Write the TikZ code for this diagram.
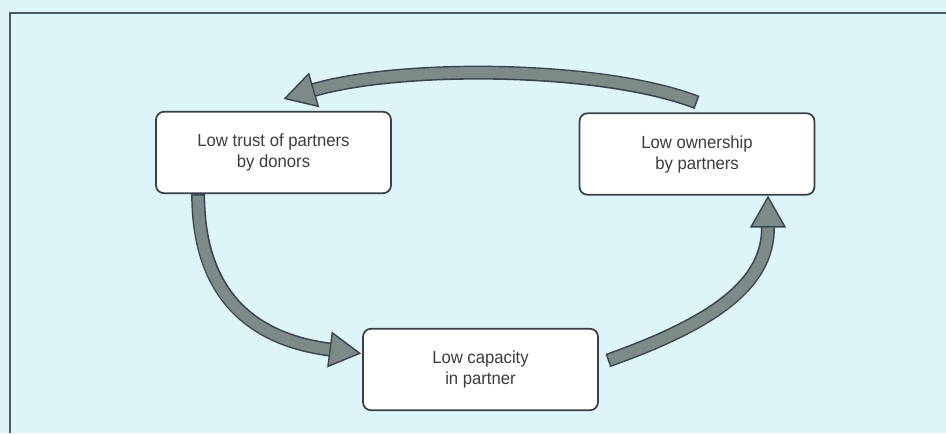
\documentclass[tikz,border=0pt]{standalone}
\usepackage{fontspec}
\newfontfamily\boxfont[FakeStretch=0.95]{Liberation Sans}
\usetikzlibrary{arrows.meta}
\definecolor{panel}{HTML}{DDF4F8}
\definecolor{frameline}{HTML}{4A5868}
\definecolor{boxline}{HTML}{3A4048}
\definecolor{boxtext}{HTML}{3C3C3C}
\definecolor{arrowfill}{HTML}{7C8A88}
\definecolor{arrowline}{HTML}{3A4450}
\tikzset{
	box/.style={shape=rectangle,rounded corners=0.16cm,line width=1pt,draw=boxline,fill=white!97!panel,
		text=boxtext,align=center,minimum width=4.7cm,minimum height=1.63cm,
		font=\boxfont\fontsize{10}{12}\selectfont},
	loop-arrow/.style={line width=0.28cm,draw=arrowline,
		-{Triangle[length=0.64cm,width=0.72cm,line width=0.8pt,fill=arrowfill]}},
	loop-fill/.style={line width=0.22cm,draw=arrowfill,shorten >=0.64cm,shorten <=0.03cm},
}
\tikzstyle{frame} = [line width=1pt,draw=frameline]

\begin{document}
\begin{tikzpicture}[x=0.02cm,y=-0.02cm]
	\useasboundingbox (0,0) rectangle (946,433);
	\fill[panel] (0,0) rectangle (946,433);
	\draw[frame] (10,433) |- (946,13);

	\node[box] (trust) at (273.5,152.5) {Low trust of partners\\by donors};
	\node[box] (own) at (697,154) {Low ownership\\by partners};
	\node[box] (cap) at (480.5,369.5) {Low capacity\\in partner};

	% ownership -> trust
	\draw[loop-arrow] ([shift={(0,-10)}]own.north) .. controls +(-97,-37) and +(116,-34) .. ([shift={(10,-12)}]trust.north);
	\draw[loop-fill] ([shift={(0,-10)}]own.north) .. controls +(-97,-37) and +(116,-34) .. ([shift={(10,-12)}]trust.north);
	% trust -> capacity
	\draw[loop-arrow] ([shift={(43,0)}]trust.south west) .. controls +(0,107) and +(-102,-13) .. ([shift={(-1,-16)}]cap.west);
	\draw[loop-fill] ([shift={(43,0)}]trust.south west) .. controls +(0,107) and +(-102,-13) .. ([shift={(-1,-16)}]cap.west);
	% capacity -> ownership
	\draw[loop-arrow] ([shift={(9,-9)}]cap.east) .. controls +(113,-40) and +(0,85) .. ([shift={(71,0)}]own.south);
	\draw[loop-fill] ([shift={(9,-9)}]cap.east) .. controls +(113,-40) and +(0,85) .. ([shift={(71,0)}]own.south);
\end{tikzpicture}
\end{document}
